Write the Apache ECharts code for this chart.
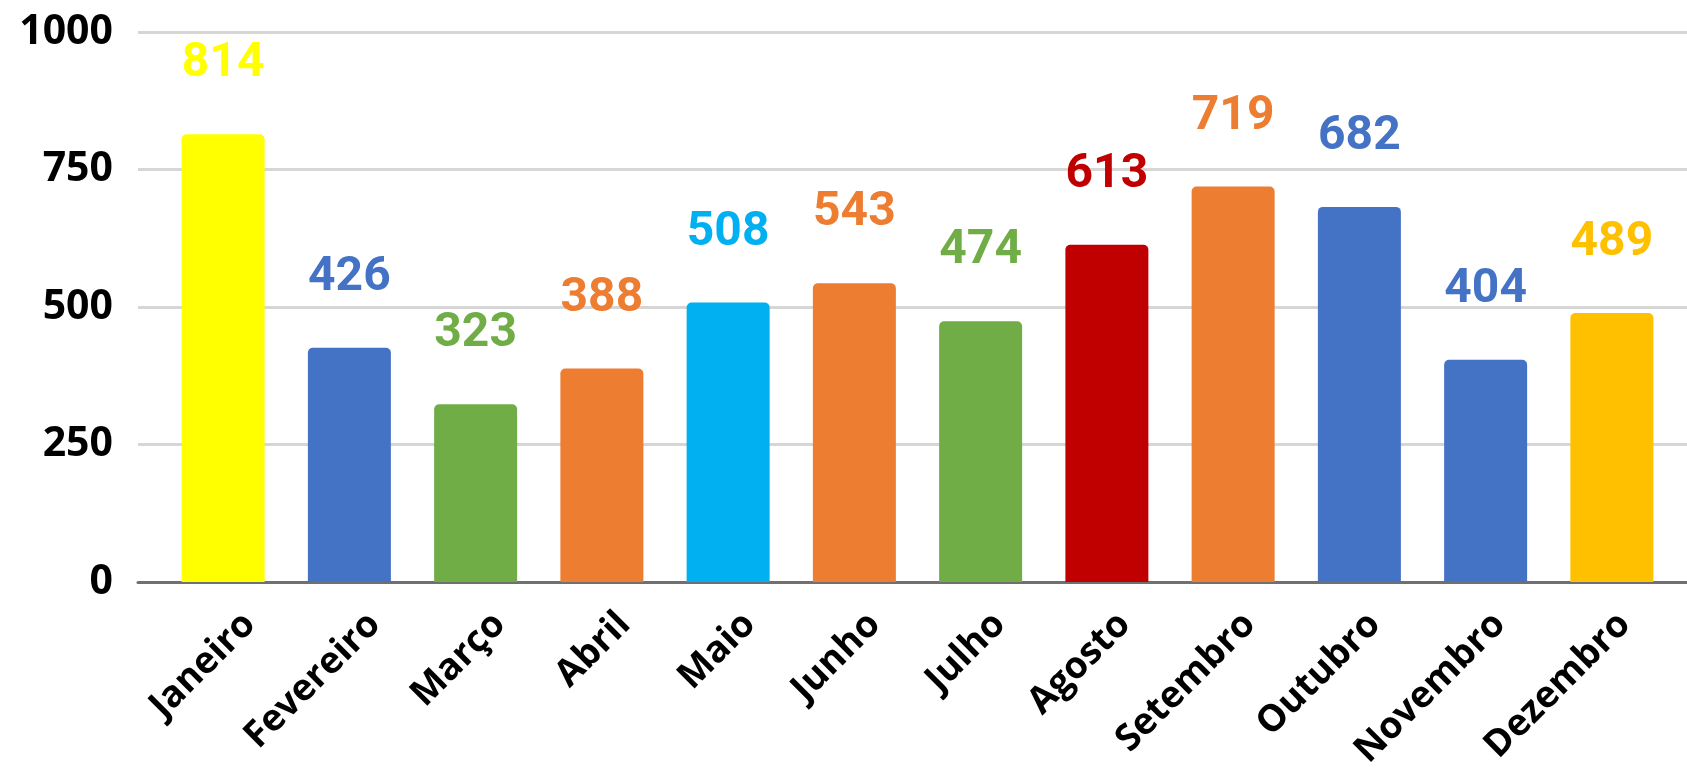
<!DOCTYPE html>
<html>
<head>
<meta charset="utf-8">
<script src="https://cdn.jsdelivr.net/npm/echarts@6/dist/echarts.min.js"></script>
<style>
html,body{margin:0;padding:0;background:#fff;}
#chart{width:1687px;height:772px;}
</style>
</head>
<body>
<div id="chart"></div>
<script>
const categories = ['Janeiro','Fevereiro','Março','Abril','Maio','Junho','Julho','Agosto','Setembro','Outubro','Novembro','Dezembro'];
const values = [814, 426, 323, 388, 508, 543, 474, 613, 719, 682, 404, 489];
const barColors = ['#FFFF00','#4472C4','#70AD47','#ED7D31','#00B0F0','#ED7D31','#70AD47','#C00000','#ED7D31','#4472C4','#4472C4','#FFC000'];
const yTicks = [0, 250, 500, 750, 1000];

const chart = echarts.init(document.getElementById('chart'));
const data = values.map((v, i) => ({
  value: v,
  itemStyle: { color: barColors[i] },
  label: { color: barColors[i] }
}));

const labelShift = 27;
const yMin = yTicks[0], yMax = yTicks[yTicks.length - 1], yStep = yTicks[1] - yTicks[0];

chart.setOption({
  animation: false,
  backgroundColor: '#ffffff',
  grid: [
    { left: 138, right: 0, top: 32, bottom: 190 },
    { left: 160, right: 12, top: 32, bottom: 190 },
    { left: 160 + labelShift, right: 12 - labelShift, top: 32, bottom: 190 }
  ],
  xAxis: [
    {
      gridIndex: 0, type: 'value', min: 0, max: 1,
      axisLine: { show: true, onZero: false, lineStyle: { color: '#707070', width: 3 } },
      axisTick: { show: false }, axisLabel: { show: false }, splitLine: { show: false }
    },
    {
      gridIndex: 1, type: 'category', data: categories,
      axisLine: { show: false }, axisTick: { show: false }, axisLabel: { show: false }
    },
    {
      gridIndex: 2, type: 'category', data: categories,
      axisLine: { show: false }, axisTick: { show: false },
      axisLabel: {
        rotate: 45, margin: 57, color: '#000', fontSize: 37, fontWeight: 'bold',
        fontFamily: 'Open Sans', interval: 0
      }
    }
  ],
  yAxis: [
    {
      gridIndex: 0, type: 'value', min: yMin, max: yMax, interval: yStep,
      axisLine: { show: false }, axisTick: { show: false },
      axisLabel: { color: '#000', fontSize: 41, fontWeight: 'bold', fontFamily: 'Noto Sans', margin: 25,
        formatter: v => String(v) },
      splitLine: { lineStyle: { color: '#d6d6d6', width: 3 } }
    },
    {
      gridIndex: 1, type: 'value', min: yMin, max: yMax, interval: yStep,
      show: false, splitLine: { show: false }
    },
    {
      gridIndex: 2, type: 'value', min: yMin, max: yMax, interval: yStep,
      show: false, splitLine: { show: false }
    }
  ],
  series: [{
    type: 'bar', xAxisIndex: 1, yAxisIndex: 1,
    data: data, barWidth: 83,
    itemStyle: { borderRadius: [5, 5, 0, 0] },
    label: {
      show: true, position: 'top', distance: 46,
      fontSize: 48, fontWeight: 'bold', fontFamily: 'Roboto'
    }
  }]
});
</script>
</body>
</html>
